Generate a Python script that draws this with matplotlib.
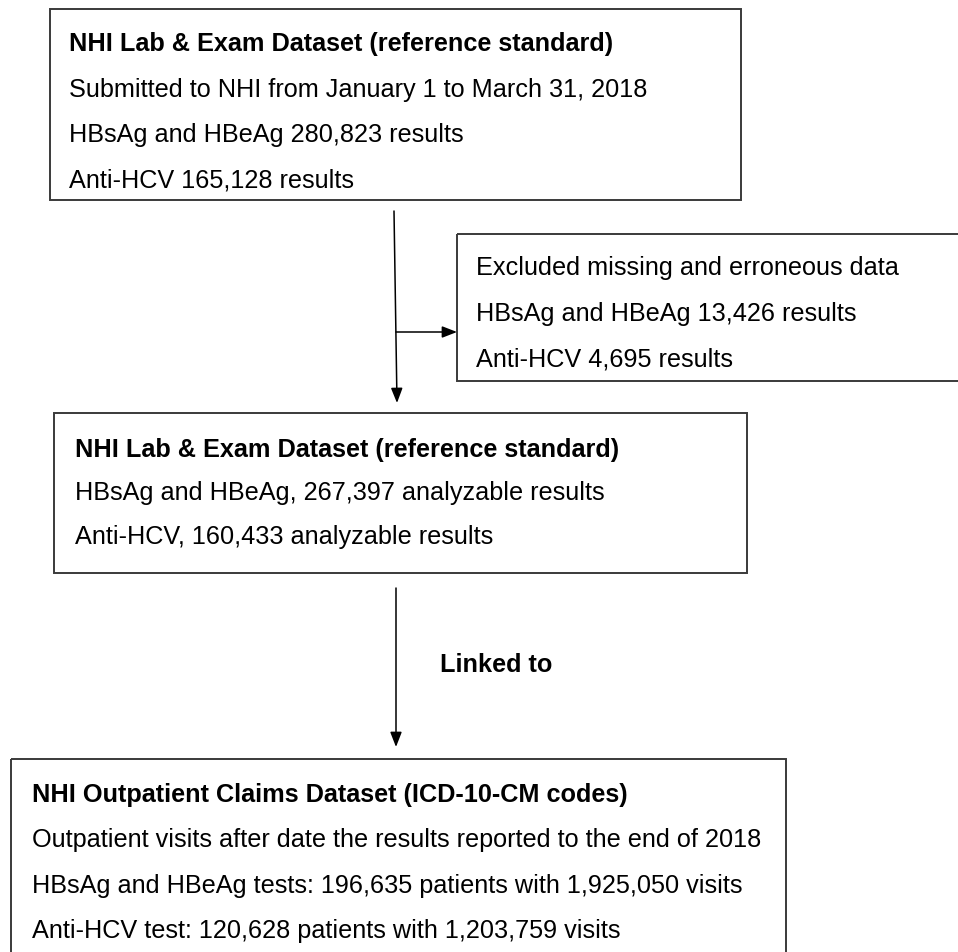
import matplotlib
matplotlib.use("Agg")
import matplotlib.pyplot as plt
from matplotlib.patches import Rectangle

plt.rcParams['font.family'] = ['Liberation Sans', 'DejaVu Sans']

box1_lines = ["NHI Lab & Exam Dataset (reference standard)",
              "Submitted to NHI from January 1 to March 31, 2018",
              "HBsAg and HBeAg 280,823 results",
              "Anti-HCV 165,128 results"]
box2_lines = ["Excluded missing and erroneous data",
              "HBsAg and HBeAg 13,426 results",
              "Anti-HCV 4,695 results"]
box3_lines = ["NHI Lab & Exam Dataset (reference standard)",
              "HBsAg and HBeAg, 267,397 analyzable results",
              "Anti-HCV, 160,433 analyzable results"]
box4_lines = ["NHI Outpatient Claims Dataset (ICD-10-CM codes)",
              "Outpatient visits after date the results reported to the end of 2018",
              "HBsAg and HBeAg tests: 196,635 patients with 1,925,050 visits",
              "Anti-HCV test: 120,628 patients with 1,203,759 visits"]
link_label = "Linked to"

W, H = 958, 953
fig = plt.figure(figsize=(W / 100, H / 100), dpi=100)
ax = fig.add_axes([0, 0, 1, 1])
ax.set_xlim(0, W)
ax.set_ylim(H, 0)
ax.axis('off')

FS = 18.2
LC = '#3a3a3a'


def box(x0, y0, x1, y1, lines, tx, ty0, dy, bold_first):
    ax.add_patch(Rectangle((x0, y0), x1 - x0, y1 - y0, fill=False,
                           edgecolor=LC, linewidth=1.4))
    for i, t in enumerate(lines):
        ax.text(tx, ty0 + i * dy, t, fontsize=FS, va='center', ha='left',
                color='black',
                fontweight='bold' if (bold_first and i == 0) else 'normal')


box(50, 10, 741, 201, box1_lines, 69, 44, 45.5, True)
box(457, 235, 962, 382, box2_lines, 476, 268, 46, False)
box(54, 414, 747, 574, box3_lines, 75, 450, 43.5, True)
box(11, 760, 786, 965, box4_lines, 32, 795, 45.3, True)

arrow_kw = dict(arrowstyle='-|>,head_length=0.9,head_width=0.35',
                color='black', lw=1.1, shrinkA=0, shrinkB=0)
ax.annotate('', xy=(397, 404), xytext=(394, 212), arrowprops=arrow_kw)
ax.annotate('', xy=(457, 333), xytext=(396, 333), arrowprops=arrow_kw)
ax.annotate('', xy=(396, 748), xytext=(396, 589), arrowprops=arrow_kw)

ax.text(440, 665, link_label, fontsize=FS, fontweight='bold', va='center',
        ha='left', color='black')

fig.savefig('out.png', dpi=100)
